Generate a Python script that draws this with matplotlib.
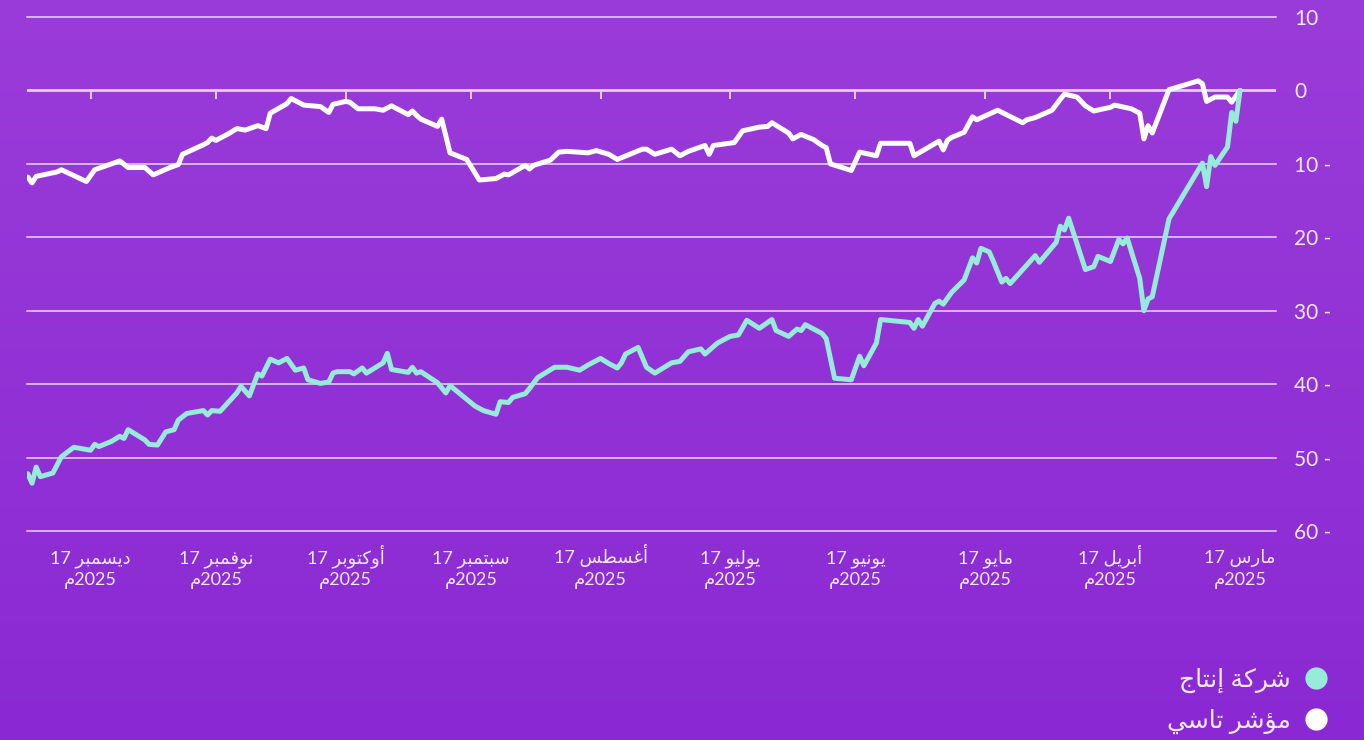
import numpy as np
import pandas as pd
import matplotlib
matplotlib.use("Agg")
import matplotlib.pyplot as plt
from matplotlib.colors import LinearSegmentedColormap
from matplotlib.lines import Line2D
from matplotlib.ticker import FuncFormatter

plt.rcParams['font.family'] = ['Lato', 'DejaVu Sans']

# الأيام منذ 17 مارس 2025 (بداية المقارنة) والأداء بالنسبة المئوية
start_date = '2025-03-17'

tasi_days = [0, 2, 3, 6, 8, 9, 10, 17, 21, 22,
             23, 24, 26, 30, 31, 35, 37, 39, 42, 43,
             45, 49, 51, 52, 58, 63, 64, 66, 69, 70,
             71, 72, 78, 79, 86, 87, 91, 93, 98, 99,
             100, 102, 105, 107, 108, 112, 113, 115, 119, 121,
             126, 127, 128, 132, 134, 136, 140, 142, 143, 149,
             151, 154, 156, 161, 163, 165, 169, 170, 171, 175,
             176, 178, 182, 185, 189, 191, 192, 196, 197, 198,
             199, 203, 205, 207, 211, 213, 214, 217, 218, 220,
             224, 227, 228, 232, 233, 235, 238, 240, 242, 245,
             246, 247, 248, 253, 254, 256, 260, 262, 266, 268,
             274, 276, 282, 283, 288, 289, 290]
tasi_vals = [0, -1.6, -0.9, -0.9, -1.5, 0.9, 1.3, 0.1, -5.8, -4.8,
             -6.6, -3.1, -2.5, -2.0, -2.3, -2.8, -2.1, -0.9, -0.5, -1.2,
             -2.7, -3.7, -4.0, -4.4, -2.7, -4.0, -3.6, -5.7, -6.4, -6.8,
             -8.1, -6.9, -8.9, -7.2, -7.2, -8.9, -8.4, -10.9, -10.0, -7.8,
             -7.5, -6.7, -6.0, -6.6, -5.8, -4.4, -4.9, -5.0, -5.5, -7.1,
             -7.5, -8.7, -7.5, -8.3, -8.9, -8.0, -8.7, -8.0, -8.0, -9.4,
             -8.7, -8.2, -8.5, -8.3, -8.4, -9.5, -10.2, -10.7, -10.2, -11.5,
             -11.4, -12.0, -12.2, -9.4, -8.5, -3.9, -4.9, -3.9, -3.4, -2.8,
             -3.3, -2.1, -2.7, -2.5, -2.5, -1.6, -1.5, -1.9, -3.0, -2.2,
             -2.0, -1.1, -1.8, -3.1, -5.2, -4.8, -5.4, -5.2, -5.9, -6.8,
             -6.5, -7.1, -7.4, -8.7, -10.1, -10.5, -11.5, -10.5, -10.5, -9.6,
             -10.8, -12.4, -10.8, -11.1, -11.7, -12.6, -11.8]

company_days = [0, 1, 2, 3, 6, 7, 8, 9, 17, 21,
                22, 23, 24, 27, 28, 29, 31, 34, 35, 37,
                41, 42, 43, 44, 48, 49, 52, 55, 56, 57,
                59, 60, 62, 63, 64, 66, 69, 71, 72, 73,
                76, 77, 78, 79, 86, 87, 90, 91, 93, 97,
                99, 100, 104, 105, 106, 108, 111, 112, 115, 118,
                120, 122, 125, 128, 129, 132, 134, 136, 140, 142,
                144, 147, 148, 149, 151, 153, 156, 158, 161, 164,
                168, 170, 171, 174, 175, 177, 178, 181, 183, 189,
                190, 192, 196, 197, 198, 199, 203, 204, 205, 209,
                210, 212, 213, 216, 217, 218, 220, 223, 224, 226,
                228, 230, 232, 234, 235, 237, 239, 240, 244, 246,
                247, 248, 252, 254, 255, 257, 259, 261, 262, 266,
                267, 268, 270, 273, 274, 275, 279, 282, 284, 287,
                288, 289, 290]
company_vals = [0, -4.2, -3.0, -7.7, -10.2, -9.0, -13.1, -9.9, -17.5, -28.1,
                -28.4, -30.0, -25.6, -20.1, -20.9, -20.3, -23.3, -22.6, -24.0, -24.4,
                -17.4, -19.0, -18.5, -20.7, -23.4, -22.5, -24.4, -26.3, -25.6, -26.1,
                -23.3, -22.0, -21.5, -23.5, -22.8, -25.8, -27.5, -29.1, -28.7, -29.0,
                -32.1, -31.2, -32.4, -31.6, -31.2, -34.4, -37.5, -36.2, -39.4, -39.2,
                -33.8, -33.1, -31.9, -32.7, -32.5, -33.5, -32.7, -31.2, -32.4, -31.3,
                -33.3, -33.5, -34.4, -35.9, -35.2, -35.6, -36.9, -37.1, -38.5, -37.7,
                -35.0, -35.9, -37.1, -37.8, -37.2, -36.5, -37.4, -38.1, -37.7, -37.7,
                -39.1, -40.6, -41.3, -41.8, -42.5, -42.4, -44.1, -43.6, -43.0, -40.2,
                -41.2, -39.8, -38.3, -38.5, -37.7, -38.4, -38.0, -35.8, -37.1, -38.5,
                -37.8, -38.6, -38.3, -38.3, -38.5, -39.7, -39.9, -39.4, -37.8, -38.1,
                -36.5, -37.1, -36.6, -38.9, -38.6, -41.6, -40.3, -41.2, -43.7, -43.6,
                -44.2, -43.6, -44.0, -44.9, -46.2, -46.5, -48.3, -48.2, -47.6, -46.2,
                -47.4, -47.1, -47.8, -48.5, -48.2, -49.0, -48.6, -49.9, -52.1, -52.6,
                -51.3, -53.5, -52.2]

tick_dates = ['2025-03-17', '2025-04-17', '2025-05-17', '2025-06-17', '2025-07-17',
              '2025-08-17', '2025-09-17', '2025-10-17', '2025-11-17', '2025-12-17']
month_names = ['مارس', 'أبريل', 'مايو', 'يونيو', 'يوليو',
               'أغسطس', 'سبتمبر', 'أوكتوبر', 'نوفمبر', 'ديسمبر']
y_ticks = [10, 0, -10, -20, -30, -40, -50, -60]
series_names = ['شركة إنتاج', 'مؤشر تاسي']

teal = '#96EBD9'
text_col = '#F3EAFD'

# تشكيل الحروف العربية (matplotlib لا يقوم بالوصل ولا بالاتجاه من اليمين لليسار)
FORMS = {
    'ا': ('\uFE8D', '\uFE8E', None, None),
    'أ': ('\uFE83', '\uFE84', None, None),
    'إ': ('\uFE87', '\uFE88', None, None),
    'ؤ': ('\uFE85', '\uFE86', None, None),
    'ة': ('\uFE93', '\uFE94', None, None),
    'د': ('\uFEA9', '\uFEAA', None, None),
    'ر': ('\uFEAD', '\uFEAE', None, None),
    'و': ('\uFEED', '\uFEEE', None, None),
    'ب': ('\uFE8F', '\uFE90', '\uFE91', '\uFE92'),
    'ت': ('\uFE95', '\uFE96', '\uFE97', '\uFE98'),
    'ج': ('\uFE9D', '\uFE9E', '\uFE9F', '\uFEA0'),
    'س': ('\uFEB1', '\uFEB2', '\uFEB3', '\uFEB4'),
    'ش': ('\uFEB5', '\uFEB6', '\uFEB7', '\uFEB8'),
    'ط': ('\uFEC1', '\uFEC2', '\uFEC3', '\uFEC4'),
    'غ': ('\uFECD', '\uFECE', '\uFECF', '\uFED0'),
    'ف': ('\uFED1', '\uFED2', '\uFED3', '\uFED4'),
    'ك': ('\uFED9', '\uFEDA', '\uFEDB', '\uFEDC'),
    'ل': ('\uFEDD', '\uFEDE', '\uFEDF', '\uFEE0'),
    'م': ('\uFEE1', '\uFEE2', '\uFEE3', '\uFEE4'),
    'ن': ('\uFEE5', '\uFEE6', '\uFEE7', '\uFEE8'),
    'ي': ('\uFEF1', '\uFEF2', '\uFEF3', '\uFEF4'),
}


def shape(word):
    out = []
    for i, ch in enumerate(word):
        if ch not in FORMS:
            out.append(ch)
            continue
        prev = word[i - 1] if i > 0 else ''
        nxt = word[i + 1] if i + 1 < len(word) else ''
        join_prev = prev in FORMS and FORMS[prev][2] is not None
        join_next = FORMS[ch][2] is not None and nxt in FORMS
        iso, fin, ini, med = FORMS[ch]
        if join_prev and join_next:
            out.append(med)
        elif join_prev:
            out.append(fin)
        elif join_next:
            out.append(ini)
        else:
            out.append(iso)
    return ''.join(out)


def rtl(text):
    return shape(text)[::-1]


start = pd.Timestamp(start_date)
tasi_dates = start + pd.to_timedelta(tasi_days, unit='D')
company_dates = start + pd.to_timedelta(company_days, unit='D')
ticks = pd.to_datetime(tick_dates)

fig = plt.figure(figsize=(13.64, 7.40), dpi=100)

# خلفية متدرجة
bg = fig.add_axes([0, 0, 1, 1], zorder=-10)
grad = np.linspace(0, 1, 256).reshape(-1, 1)
bg.imshow(grad, aspect='auto', extent=[0, 1, 0, 1],
          cmap=LinearSegmentedColormap.from_list('bg', ['#9A3CD9', '#8A29D3']))
bg.axis('off')

ax = fig.add_axes([27 / 1364, 209 / 740, 1249 / 1364, 514 / 740])
ax.set_facecolor('none')
ax.set_xlim(start + pd.Timedelta(days=290.2), start - pd.Timedelta(days=8.6))
ax.set_ylim(-60, 10)

for v in y_ticks:
    if v != 0:
        ax.axhline(v, color='white', alpha=0.8, lw=1.1, clip_on=False, zorder=1)
ax.axhline(0, color='#DCD4E6', lw=2, zorder=1)
ax.vlines(ticks, -1.1, 0, color='#DCD4E6', lw=1.4, zorder=1)

ax.plot(tasi_dates, tasi_vals, color='white', lw=3.6,
        solid_joinstyle='round', solid_capstyle='round', zorder=3)
ax.plot(company_dates, company_vals, color=teal, lw=3.6,
        solid_joinstyle='round', solid_capstyle='round', zorder=4)

# تسميات المحور الأفقي: سطران لكل شهر
ax.set_xticks(ticks)
ax.set_xticklabels([])
ax.tick_params(axis='x', length=0)
xt = ax.get_xaxis_transform()
for d, m in zip(ticks, month_names):
    ax.text(d, -32 / 514, f"17 {rtl(m)}", transform=xt, ha='center',
            va='baseline', fontsize=13, color=text_col)
    ax.text(d, -54 / 514, f"{rtl('م')}2025", transform=xt, ha='center',
            va='baseline', fontsize=13, color=text_col)

ax.yaxis.tick_right()
ax.set_yticks(y_ticks)
ax.yaxis.set_major_formatter(FuncFormatter(
    lambda v, p: f"{abs(int(v))} -" if v < 0 else f"{int(v)}"))
ax.tick_params(axis='y', length=0, pad=13, labelsize=15, colors=text_col)

for s in ax.spines.values():
    s.set_visible(False)

handles = [Line2D([], [], marker='o', ls='none', markersize=16,
                  markerfacecolor=teal, markeredgecolor='none'),
           Line2D([], [], marker='o', ls='none', markersize=16,
                  markerfacecolor='white', markeredgecolor='none')]
fig.legend(handles, [rtl(n) for n in series_names], loc='lower right',
           bbox_to_anchor=(1358 / 1364, -0.016), markerfirst=False, frameon=False,
           fontsize=18, labelcolor=text_col, handletextpad=0.0,
           labelspacing=0.65, borderpad=0.2)

fig.savefig('out.png', dpi=100)
